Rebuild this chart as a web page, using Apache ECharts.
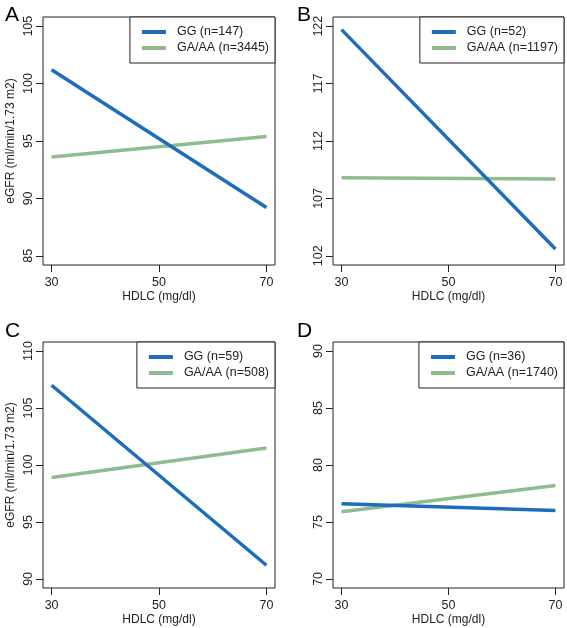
<!DOCTYPE html>
<html>
<head>
<meta charset="utf-8">
<script src="https://cdn.jsdelivr.net/npm/echarts@6/dist/echarts.min.js"></script>
<style>
html,body{margin:0;padding:0;background:#fff;}
#chart{width:567px;height:628px;}
</style>
</head>
<body>
<div id="chart"></div>
<script>
// ---- data ----
const hdlc = [30, 70];
const xTicks = [30, 50, 70];
const panelLetters = ['A', 'B', 'C', 'D'];

const namesGG = ['GG (n=147)', 'GG (n=52)', 'GG (n=59)', 'GG (n=36)'];
const namesGA = ['GA/AA (n=3445)', 'GA/AA (n=1197)', 'GA/AA (n=508)', 'GA/AA (n=1740)'];

const valuesGG_A = [101.2, 89.2];
const valuesGA_A = [93.6, 95.4];
const valuesGG_B = [121.7, 102.6];
const valuesGA_B = [108.8, 108.7];
const valuesGG_C = [107.0, 91.2];
const valuesGA_C = [98.9, 101.5];
const valuesGG_D = [76.6, 76.0];
const valuesGA_D = [75.9, 78.2];

const yTicks_A = [85, 90, 95, 100, 105];
const yTicks_B = [102, 107, 112, 117, 122];
const yTicks_C = [90, 95, 100, 105, 110];
const yTicks_D = [70, 75, 80, 85, 90];

const xTitle = 'HDLC (mg/dl)';
const yTitle = 'eGFR (ml/min/1.73 m2)';

// ---- layout / style ----
const BLUE = '#1e6cbc';
const GREEN = '#8fbc8f';
const INK = '#222';
const FONT = 'Liberation Sans, Arial, sans-serif';

const ggSets = [valuesGG_A, valuesGG_B, valuesGG_C, valuesGG_D];
const gaSets = [valuesGA_A, valuesGA_B, valuesGA_C, valuesGA_D];
const yTickSets = [yTicks_A, yTicks_B, yTicks_C, yTicks_D];

const grids = [
  {left: 43, top: 17, width: 232, height: 248},
  {left: 333, top: 17, width: 231, height: 248},
  {left: 43, top: 342, width: 232, height: 246},
  {left: 333, top: 342, width: 231, height: 246}
];
const letterPos = [[5, 5], [297, 5], [5, 321], [297, 321]];

function range(ticks) {
  const lo = ticks[0], hi = ticks[ticks.length - 1];
  const ext = (hi - lo) * 0.04;
  return [lo - ext, hi + ext];
}

const option = {
  animation: false,
  backgroundColor: '#fff',
  textStyle: {fontFamily: FONT},
  grid: grids.map(g => Object.assign({show: true, borderColor: INK, borderWidth: 1, backgroundColor: 'transparent'}, g)),
  xAxis: grids.map((g, i) => {
    const r = range(xTicks);
    return {
      type: 'value', gridIndex: i, min: r[0], max: r[1],
      name: xTitle, nameLocation: 'middle', nameGap: 26,
      nameTextStyle: {fontSize: 12, color: INK, fontFamily: FONT},
      axisLine: {show: false},
      axisTick: {show: true, length: 7, inside: false, lineStyle: {color: INK}, customValues: xTicks},
      axisLabel: {show: true, margin: 11, fontSize: 12.5, color: INK, fontFamily: FONT, customValues: xTicks},
      splitLine: {show: false}
    };
  }),
  yAxis: grids.map((g, i) => {
    const t = yTickSets[i];
    const r = range(t);
    return {
      type: 'value', gridIndex: i, min: r[0], max: r[1],
      name: (i % 2 === 0) ? yTitle : '', nameLocation: 'middle', nameGap: 26,
      nameTextStyle: {fontSize: 12, color: INK, fontFamily: FONT},
      axisLine: {show: false},
      axisTick: {show: true, length: 7, inside: false, lineStyle: {color: INK}, customValues: t},
      axisLabel: {show: true, margin: 8, rotate: 90, fontSize: 12.5, color: INK, fontFamily: FONT, customValues: t},
      splitLine: {show: false}
    };
  }),
  legend: grids.map((g, i) => ({
    orient: 'vertical',
    right: 567 - (g.left + g.width),
    top: g.top,
    data: [namesGG[i], namesGA[i]],
    icon: 'rect',
    itemWidth: 24, itemHeight: 4, itemGap: 0,
    padding: [7, 6, 7, 12],
    borderColor: INK, borderWidth: 1, backgroundColor: '#fff',
    textStyle: {fontSize: 12.5, color: INK, fontFamily: FONT, lineHeight: 16, padding: [0, 0, 0, 6]},
    selectedMode: false
  })),
  graphic: panelLetters.map((L, i) => ({
    type: 'text', left: letterPos[i][0], top: letterPos[i][1],
    style: {text: L, font: '21px ' + FONT, fill: '#000'}
  })),
  series: []
};

for (let i = 0; i < 4; i++) {
  option.series.push({
    type: 'line', name: namesGG[i], xAxisIndex: i, yAxisIndex: i,
    data: hdlc.map((x, k) => [x, ggSets[i][k]]),
    showSymbol: false, symbol: 'none', color: BLUE,
    lineStyle: {width: 3.5, color: BLUE}, z: 3
  });
  option.series.push({
    type: 'line', name: namesGA[i], xAxisIndex: i, yAxisIndex: i,
    data: hdlc.map((x, k) => [x, gaSets[i][k]]),
    showSymbol: false, symbol: 'none', color: GREEN,
    lineStyle: {width: 3.5, color: GREEN}, z: 2
  });
}

const chart = echarts.init(document.getElementById('chart'), null, {renderer: 'canvas'});
chart.setOption(option);
</script>
</body>
</html>
